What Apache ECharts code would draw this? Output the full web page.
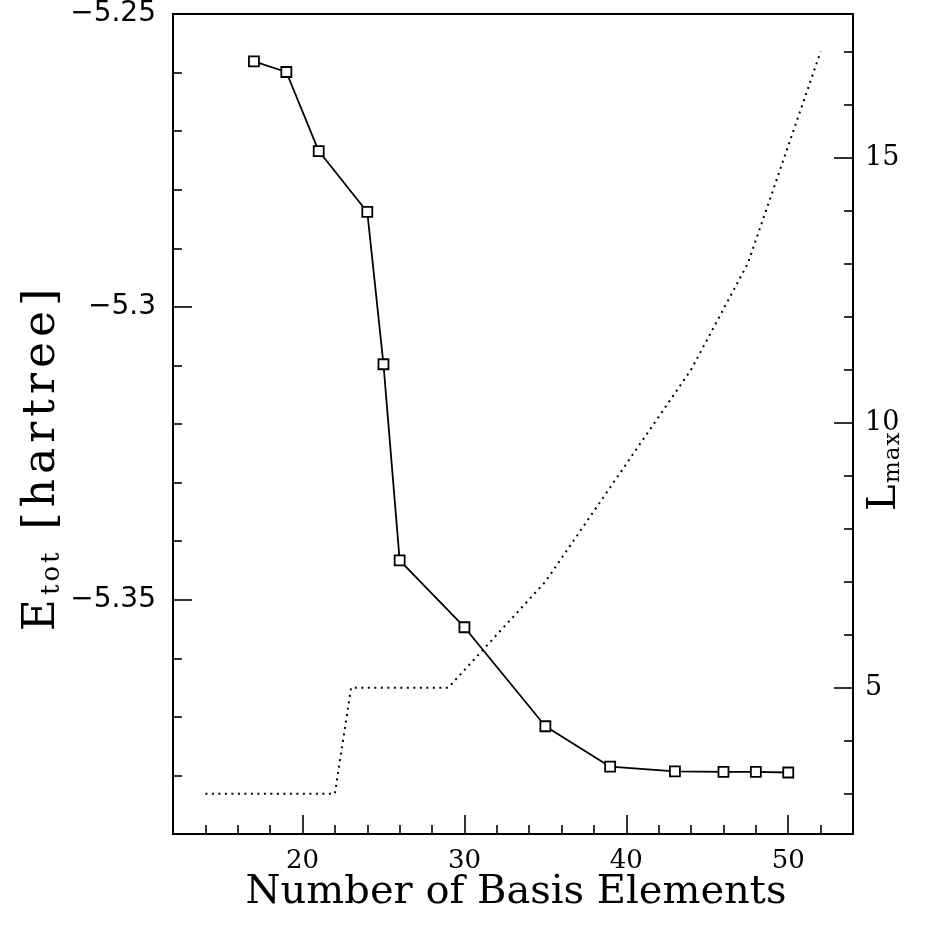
<!DOCTYPE html>
<html><head><meta charset="utf-8">
<script src="https://cdn.jsdelivr.net/npm/echarts@6/dist/echarts.min.js"></script>
<style>html,body{margin:0;padding:0;background:#fff}#c{width:936px;height:926px}</style>
</head><body><div id="c"></div>
<script>
// Energy vs. number of basis elements
const basisN = [17, 19, 21, 24, 25, 26, 30, 35, 39, 43, 46, 48, 50];
const energy = [-5.2581, -5.2599, -5.2734, -5.2838, -5.3098, -5.3433, -5.3547, -5.3716, -5.3785, -5.3793, -5.3794, -5.3794, -5.3795];
// L_max vs. number of basis elements (dotted)
const lmaxN = [14, 22, 23, 29, 35, 44, 47.5, 52];
const lmax = [3, 3, 5, 5, 7, 11, 13, 17];
// ticks
const xMajor = [20, 30, 40, 50];
const xMinor = [14, 16, 18, 22, 24, 26, 28, 32, 34, 36, 38, 42, 44, 46, 48, 52];
const eMajor = [-5.35, -5.3, -5.25];
const eMinor = [-5.26, -5.27, -5.28, -5.29, -5.31, -5.32, -5.33, -5.34, -5.36, -5.37, -5.38];
const lMajor = [5, 10, 15];
const lMinor = [3, 4, 6, 7, 8, 9, 11, 12, 13, 14, 16, 17];
// titles: [style, text]
const xTitle = 'Number of Basis Elements';
const eTitle = [['b', 'E'], ['s', 'tot'], ['b', ' [hartree]']];
const lTitle = [['b', 'L'], ['s', 'max']];

const X_MIN = 12, X_MAX = 54, E_MIN = -5.39, E_MAX = -5.25, L_MIN = 2.24, L_MAX = 17.71;

const chart = echarts.init(document.getElementById('c'), null, {renderer: 'canvas'});
const black = '#000';
const serif = 'DejaVu Serif';

function xAxisDef(ticks, len, labels) {
  return {
    type: 'value', min: X_MIN, max: X_MAX, position: 'bottom',
    axisLine: {show: false},
    splitLine: {show: false},
    axisTick: {show: true, inside: true, length: len, customValues: ticks, lineStyle: {color: black, width: 1.6}},
    axisLabel: labels ? {show: true, customValues: ticks, color: black, fontFamily: serif, fontSize: 26, margin: 14} : {show: false}
  };
}
function yAxisDef(min, max, pos, ticks, len, labels, fmt, font, size, margin) {
  return {
    type: 'value', min: min, max: max, position: pos,
    axisLine: {show: false},
    splitLine: {show: false},
    axisTick: {show: true, inside: true, length: len, customValues: ticks, lineStyle: {color: black, width: 1.6}},
    axisLabel: labels ? {show: true, customValues: ticks, color: black, fontFamily: font, fontSize: size, margin: margin, formatter: fmt} : {show: false}
  };
}
// per-character rich tokens (for the wide letter spacing of the original lettering)
function spacedRich(parts) {
  return parts.map(([st, txt]) => Array.from(txt).map(ch => '{' + st + '|' + ch + '}').join('')).join('');
}

const option = {
  backgroundColor: '#fff',
  animation: false,
  grid: {left: 173, right: 83, top: 14, bottom: 92, show: true, borderColor: black, borderWidth: 2, backgroundColor: 'transparent'},
  xAxis: [
    xAxisDef(xMajor, 19, true),
    xAxisDef(xMinor, 9, false)
  ],
  yAxis: [
    yAxisDef(E_MIN, E_MAX, 'left', eMajor, 19, true, v => '\u2212' + String(Math.abs(v)), 'DejaVu Sans', 28, 17),
    yAxisDef(E_MIN, E_MAX, 'left', eMinor, 9, false),
    yAxisDef(L_MIN, L_MAX, 'right', lMajor, 19, true, v => String(v), serif, 27, 12),
    yAxisDef(L_MIN, L_MAX, 'right', lMinor, 9, false)
  ],
  series: [
    {
      type: 'line', xAxisIndex: 0, yAxisIndex: 2,
      data: lmaxN.map((n, i) => [n, lmax[i]]),
      symbol: 'none', silent: true,
      lineStyle: {color: black, width: 2, type: [2, 4.5]}
    },
    {
      type: 'line', xAxisIndex: 0, yAxisIndex: 0,
      data: basisN.map((n, i) => [n, energy[i]]),
      symbol: 'rect', symbolSize: 10, silent: true,
      lineStyle: {color: black, width: 1.8},
      itemStyle: {color: '#fff', borderColor: black, borderWidth: 1.8}
    }
  ],
  graphic: [
    {
      type: 'text', x: 42, y: 460, rotation: Math.PI / 2,
      style: {
        text: spacedRich(eTitle),
        align: 'center', verticalAlign: 'middle',
        rich: {
          b: {fontFamily: serif, fontSize: 44, fill: black, lineHeight: 46, verticalAlign: 'bottom', padding: [0, 2.5, 0, 2.5]},
          s: {fontFamily: serif, fontSize: 26, fill: black, lineHeight: 26, verticalAlign: 'bottom', padding: [0, 1.5, 0, 1.5]}
        }
      }
    },
    {
      type: 'text', x: 884, y: 472, rotation: Math.PI / 2,
      style: {
        text: spacedRich(lTitle),
        align: 'center', verticalAlign: 'middle',
        rich: {
          b: {fontFamily: serif, fontSize: 40, fill: black, lineHeight: 42, verticalAlign: 'bottom', padding: [0, 1, 0, 1]},
          s: {fontFamily: serif, fontSize: 23, fill: black, lineHeight: 23, verticalAlign: 'bottom', padding: [0, 0.5, 0, 0.5]}
        }
      }
    },
    {
      type: 'text', x: 516, y: 893,
      style: {text: xTitle, align: 'center', verticalAlign: 'middle', fontFamily: serif, fontSize: 40, fill: black}
    }
  ]
};
chart.setOption(option);
</script>
</body></html>
